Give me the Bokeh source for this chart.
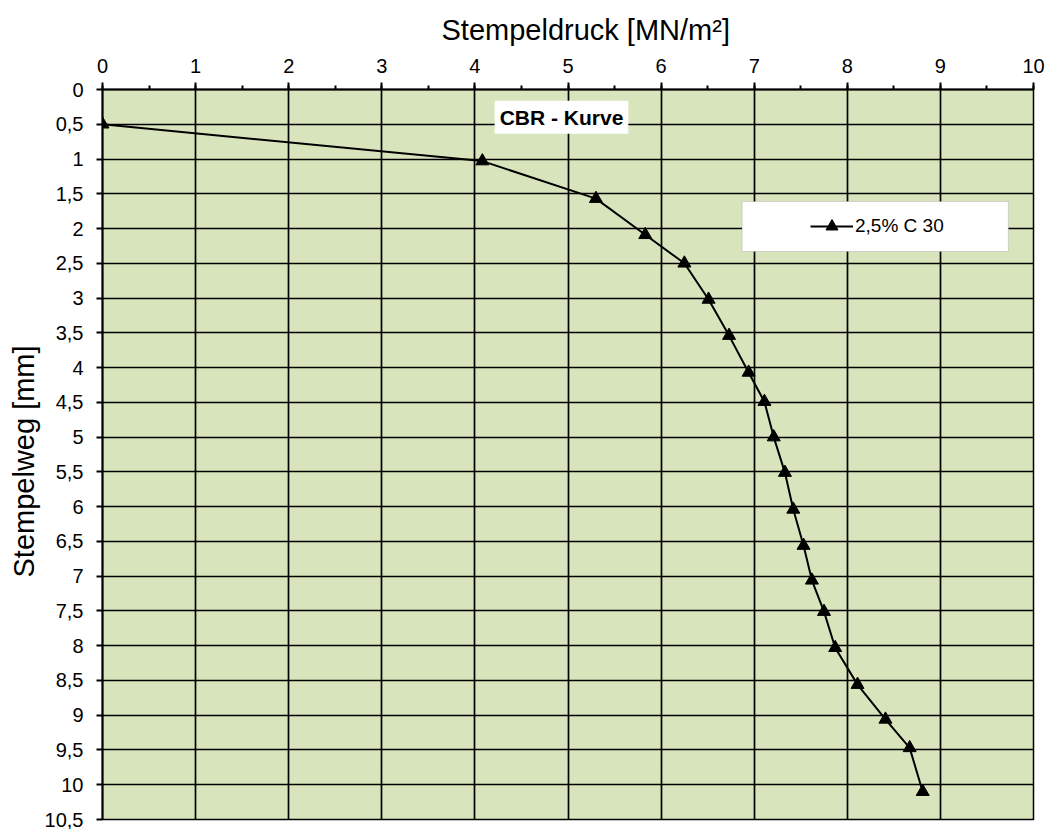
from bokeh.plotting import figure
from bokeh.models import (FixedTicker, Range1d, Label, BoxAnnotation, Legend, LegendItem,
                          ColumnDataSource, Title)
from bokeh.embed import file_html
from bokeh.resources import INLINE

# ---- data ----
stempeldruck = [0.0, 4.08, 5.30, 5.83, 6.25, 6.51, 6.73, 6.94, 7.11, 7.21,
                7.33, 7.42, 7.53, 7.62, 7.75, 7.87, 8.11, 8.41, 8.67, 8.81]
stempelweg = [0.5, 1.03, 1.57, 2.09, 2.5, 3.02, 3.54, 4.07, 4.49, 5.0,
              5.51, 6.04, 6.56, 7.06, 7.51, 8.03, 8.56, 9.06, 9.47, 10.1]
series_name = "2,5% C 30"
chart_label = "CBR - Kurve"
x_title = "Stempeldruck [MN/m²]"
y_title = "Stempelweg [mm]"
x_ticks = list(range(0, 11))
x_minor = [i * 0.5 for i in range(0, 21)]
y_ticks = [i * 0.5 for i in range(0, 22)]

def fmt(v):
    s = ("%g" % v)
    return s.replace(".", ",")

FONT = "Liberation Sans"

p = figure(width=1050, height=829, output_backend="svg", toolbar_location=None,
           x_axis_location="above", x_range=Range1d(0, 10), y_range=Range1d(10.5, 0),
           min_border_left=102, min_border_right=17, min_border_top=89, min_border_bottom=10,
           background_fill_color="#d8e4bc", border_fill_color="white")
p.outline_line_color = "black"
p.outline_line_width = 1.5

# axes
xa = p.xaxis[0]
xa.ticker = FixedTicker(ticks=x_ticks, minor_ticks=x_minor)
xa.major_label_overrides = {t: fmt(t) for t in x_ticks}
ya = p.yaxis[0]
ya.ticker = FixedTicker(ticks=y_ticks)
ya.major_label_overrides = {t: fmt(t) for t in y_ticks}

for ax in (xa, ya):
    ax.axis_line_color = "black"
    ax.axis_line_width = 2
    ax.major_tick_line_color = "black"
    ax.major_tick_line_width = 2
    ax.major_tick_in = 0
    ax.major_tick_out = 7
    ax.minor_tick_line_color = "black"
    ax.minor_tick_line_width = 2
    ax.minor_tick_in = 0
    ax.minor_tick_out = 4
    ax.major_label_text_font = FONT
    ax.major_label_text_font_size = "20px"
    ax.major_label_text_color = "black"

xa.major_label_standoff = 10
ya.minor_tick_line_color = None
ya.major_tick_out = 6
ya.major_label_standoff = 13

# axis titles (placed as titles so they can be offset like the original)
tx = Title(text=x_title, align="left", offset=339, standoff=20,
           text_font=FONT, text_font_size="29px", text_font_style="normal", text_color="black")
p.add_layout(tx, "above")
ty = Title(text=y_title, align="left", offset=242, standoff=4,
           text_font=FONT, text_font_size="29px", text_font_style="normal", text_color="black")
p.add_layout(ty, "left")

# grid
p.xgrid.ticker = FixedTicker(ticks=x_ticks)
p.ygrid.ticker = FixedTicker(ticks=y_ticks)
for g in (p.xgrid[0], p.ygrid[0]):
    g.grid_line_color = "black"
    g.grid_line_width = 1.7
    g.grid_line_alpha = 1.0

src = ColumnDataSource(dict(x=stempeldruck, y=stempelweg))
ln = p.line("x", "y", source=src, line_color="black", line_width=2)
mk = p.scatter("x", "y", source=src, marker="triangle", size=13,
               fill_color="black", line_color="black")

# chart label
lbl = Label(x=4.93, y=0.40, text=chart_label, text_align="center", text_baseline="middle",
            text_font=FONT, text_font_size="21px", text_font_style="bold",
            text_color="black", background_fill_color="white", padding=5)
p.add_layout(lbl)

# legend box
box = BoxAnnotation(left=6.87, right=9.73, top=1.61, bottom=2.33,
                    fill_color="white", fill_alpha=1.0, line_color="#8c8c8c", line_width=1)
p.add_layout(box)

legend = Legend(items=[LegendItem(label=series_name, renderers=[ln, mk])],
                location=(708, 578), padding=0, margin=0, spacing=0,
                glyph_width=43, glyph_height=30, label_height=30, label_standoff=2,
                background_fill_alpha=0, border_line_color=None,
                label_text_font=FONT, label_text_font_size="19px", label_text_color="black")
p.add_layout(legend)

open("out.html", "w").write(file_html(p, INLINE))
